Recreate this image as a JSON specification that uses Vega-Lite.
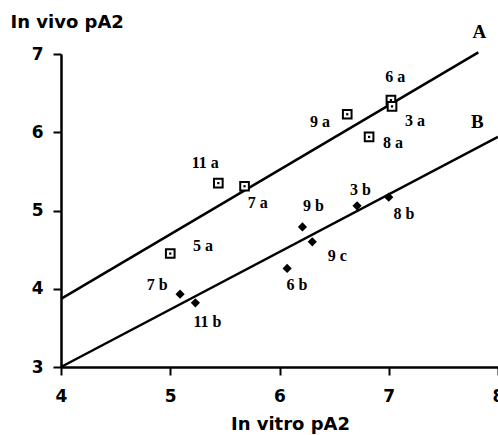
{
  "$schema": "https://vega.github.io/schema/vega-lite/v6.json",
  "width": 437,
  "height": 313,
  "autosize": {"type": "none"},
  "padding": {"left": 61, "top": 54, "right": 0, "bottom": 68},
  "background": "white",
  "config": {"view": {"stroke": null}},
  "datasets": {
    "fits": [
      {"line": "A", "x": 4, "y": 3.87},
      {"line": "A", "x": 7.82, "y": 7.02},
      {"line": "B", "x": 4, "y": 3.0},
      {"line": "B", "x": 8, "y": 5.94}
    ],
    "points": [
      {"id": "5a", "series": "a", "x": 5.0, "y": 4.45},
      {"id": "11a", "series": "a", "x": 5.44, "y": 5.35},
      {"id": "7a", "series": "a", "x": 5.68, "y": 5.31},
      {"id": "9a", "series": "a", "x": 6.62, "y": 6.23},
      {"id": "6a", "series": "a", "x": 7.02, "y": 6.41},
      {"id": "3a", "series": "a", "x": 7.03, "y": 6.33},
      {"id": "8a", "series": "a", "x": 6.82, "y": 5.94},
      {"id": "7b", "series": "b", "x": 5.09, "y": 3.93},
      {"id": "11b", "series": "b", "x": 5.23, "y": 3.82},
      {"id": "6b", "series": "b", "x": 6.07, "y": 4.26},
      {"id": "9b", "series": "b", "x": 6.21, "y": 4.79},
      {"id": "9c", "series": "b", "x": 6.3, "y": 4.6},
      {"id": "3b", "series": "b", "x": 6.71, "y": 5.06},
      {"id": "8b", "series": "b", "x": 7.0, "y": 5.17}
    ],
    "labels": [
      {"text": "6 a", "x": 7.06, "y": 6.7},
      {"text": "9 a", "x": 6.37, "y": 6.13},
      {"text": "3 a", "x": 7.24, "y": 6.15},
      {"text": "8 a", "x": 7.04, "y": 5.86},
      {"text": "11 a", "x": 5.32, "y": 5.61},
      {"text": "7 a", "x": 5.8, "y": 5.09},
      {"text": "5 a", "x": 5.3, "y": 4.55},
      {"text": "7 b", "x": 4.88, "y": 4.05},
      {"text": "11 b", "x": 5.34, "y": 3.57},
      {"text": "9 b", "x": 6.31, "y": 5.06},
      {"text": "3 b", "x": 6.74, "y": 5.26},
      {"text": "8 b", "x": 7.14, "y": 4.95},
      {"text": "9 c", "x": 6.53, "y": 4.42},
      {"text": "6 b", "x": 6.16, "y": 4.05}
    ],
    "lineLabels": [
      {"text": "A", "x": 7.83, "y": 7.28},
      {"text": "B", "x": 7.81, "y": 6.13}
    ]
  },
  "encoding": {
    "x": {
      "field": "x", "type": "quantitative",
      "scale": {"domain": [4, 8], "nice": false, "zero": false},
      "axis": {
        "values": [4, 5, 6, 7, 8], "grid": false, "format": "d",
        "title": "In vitro pA2",
        "titleFont": "DejaVu Sans", "titleFontWeight": "bold", "titleFontSize": 18,
        "titleX": 229, "titleY": 62, "titleAlign": "center", "titleBaseline": "alphabetic",
        "labelFont": "DejaVu Sans", "labelFontWeight": "bold", "labelFontSize": 17,
        "labelColor": "black", "labelPadding": 13, "labelFlush": false, "labelOverlap": false,
        "domainColor": "black", "domainWidth": 2.5,
        "tickColor": "black", "tickWidth": 2, "tickSize": 8
      }
    },
    "y": {
      "field": "y", "type": "quantitative",
      "scale": {"domain": [3, 7], "nice": false, "zero": false},
      "axis": {
        "values": [3, 4, 5, 6, 7], "grid": false, "format": "d",
        "title": "In vivo pA2",
        "titleFont": "DejaVu Sans", "titleFontWeight": "bold", "titleFontSize": 18,
        "titleAngle": 0, "titleX": -51, "titleY": -27, "titleAlign": "left", "titleBaseline": "alphabetic",
        "labelFont": "DejaVu Sans", "labelFontWeight": "bold", "labelFontSize": 17,
        "labelColor": "black", "labelPadding": 10, "labelFlush": false,
        "domainColor": "black", "domainWidth": 2.5,
        "tickColor": "black", "tickWidth": 2, "tickSize": 8
      }
    }
  },
  "layer": [
    {
      "data": {"name": "fits"},
      "mark": {"type": "line", "color": "black", "strokeWidth": 2.5, "clip": false},
      "encoding": {"detail": {"field": "line"}}
    },
    {
      "data": {"name": "points"},
      "transform": [{"filter": "datum.series === 'a'"}],
      "mark": {"type": "point", "shape": "square", "filled": true, "fill": "white", "stroke": "black", "strokeWidth": 2, "size": 75, "opacity": 1}
    },
    {
      "data": {"name": "points"},
      "transform": [{"filter": "datum.series === 'a'"}],
      "mark": {"type": "point", "shape": "square", "filled": true, "color": "black", "size": 5, "opacity": 1}
    },
    {
      "data": {"name": "points"},
      "transform": [{"filter": "datum.series === 'b'"}],
      "mark": {"type": "point", "shape": "diamond", "filled": true, "color": "black", "size": 85, "opacity": 1}
    },
    {
      "data": {"name": "labels"},
      "mark": {"type": "text", "font": "Liberation Serif", "fontWeight": "bold", "fontSize": 16, "color": "black", "align": "center", "baseline": "middle"},
      "encoding": {"text": {"field": "text"}}
    },
    {
      "data": {"name": "lineLabels"},
      "mark": {"type": "text", "font": "Liberation Serif", "fontWeight": "bold", "fontSize": 19, "color": "black", "align": "center", "baseline": "middle", "clip": false},
      "encoding": {"text": {"field": "text"}}
    }
  ]
}
